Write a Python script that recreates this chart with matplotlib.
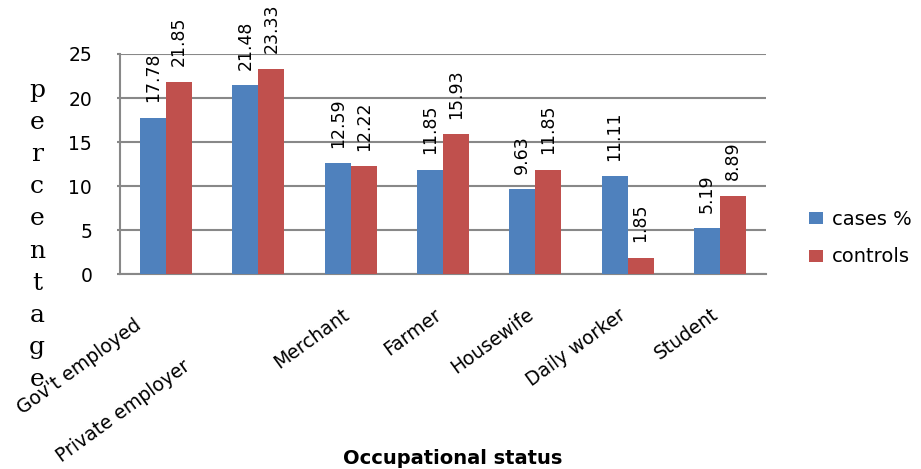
import matplotlib
matplotlib.use("Agg")
import matplotlib.pyplot as plt
import matplotlib.transforms as mtransforms
import numpy as np

categories = ["Gov't employed", "Private employer", "Merchant", "Farmer",
              "Housewife", "Daily worker", "Student"]
cases = [17.78, 21.48, 12.59, 11.85, 9.63, 11.11, 5.19]
controls = [21.85, 23.33, 12.22, 15.93, 11.85, 1.85, 8.89]
series_names = ["cases %", "controls"]
yticks = [0, 5, 10, 15, 20, 25]

BLUE = "#4F81BD"
RED = "#C0504D"
GRID = "#888888"
FONT = "DejaVu Sans"

W, H = 921, 469
fig = plt.figure(figsize=(W / 100, H / 100), dpi=100)
ax = fig.add_axes([120 / W, 1 - 274 / H, 646 / W, 220 / H])

x = np.arange(len(categories))
bw = 0.282
b1 = ax.bar(x - bw / 2, cases, bw, color=BLUE, label=series_names[0], zorder=3)
b2 = ax.bar(x + bw / 2, controls, bw, color=RED, label=series_names[1], zorder=3)

for bars in (b1, b2):
    ax.bar_label(bars, labels=[f"{v:.2f}" for v in bars.datavalues],
                 rotation=90, padding=11, fontsize=12.5, family=FONT)

ax.set_xlim(-0.5, len(categories) - 0.5)
ax.set_ylim(0, 25)
ax.set_yticks(yticks)
ax.yaxis.grid(True, color=GRID, linewidth=1.5, zorder=0)
ax.set_axisbelow(True)
for s in ("top", "right"):
    ax.spines[s].set_visible(False)
for s in ("left", "bottom"):
    ax.spines[s].set_color(GRID)
    ax.spines[s].set_linewidth(1.5)
ax.tick_params(axis="y", length=2, width=1.5, color=GRID, pad=18,
               labelsize=13.5)
for lab in ax.get_yticklabels():
    lab.set_family(FONT)

ax.set_xticks(x)
ax.set_xticklabels(categories, rotation=36, ha="right", va="top",
                   rotation_mode="anchor", fontsize=13.5, family=FONT)
ax.tick_params(axis="x", length=0, pad=0)

# per-label offsets in pixels (dx, dy)
offsets = [(-32, -42), (-76, -82), (-9, -31), (-9, -31), (-9, -31), (-9, -31), (-9, -31)]
for lab, (dx, dy) in zip(ax.get_xticklabels(), offsets):
    lab.set_transform(lab.get_transform() +
                      mtransforms.ScaledTranslation(dx / 100, dy / 100, fig.dpi_scale_trans))

# vertical stacked y-label
word = "percentage"
for i, ch in enumerate(word):
    fig.text(37 / W, 1 - (90 + i * 32.2) / H, ch, ha="center", va="center",
             fontsize=18, family="DejaVu Serif")

fig.text(453 / W, 1 - 464 / H, "Occupational status", ha="center", va="baseline",
         fontsize=14, fontweight="bold", family=FONT)

fig.legend(handles=[b1, b2], labels=series_names, loc="upper left",
           bbox_to_anchor=(809 / W, 1 - 210 / H), frameon=False,
           handlelength=0.72, handleheight=0.57, handletextpad=0.46,
           labelspacing=0.95, borderpad=0, borderaxespad=0,
           prop={"family": FONT, "size": 14})

fig.savefig("out.png", dpi=100)
